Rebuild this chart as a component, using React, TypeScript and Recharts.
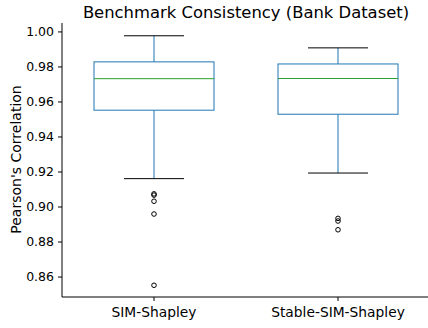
// @ts-nocheck
import { ComposedChart, Bar, Scatter, XAxis, YAxis } from "recharts";

const categories = ["SIM-Shapley", "Stable-SIM-Shapley"];
const whiskerLow = [0.9162, 0.9194];
const q1 = [0.9553, 0.953];
const median = [0.9733, 0.9734];
const q3 = [0.9829, 0.9817];
const whiskerHigh = [0.9978, 0.9909];
const outliers = [
  [0.9075, 0.9068, 0.9033, 0.896, 0.8553],
  [0.8935, 0.892, 0.887],
];
const yTicks = [0.86, 0.88, 0.9, 0.92, 0.94, 0.96, 0.98, 1.0];

const data = categories.map((name, i) => ({
  name,
  range: [whiskerLow[i], whiskerHigh[i]],
  lo: whiskerLow[i],
  q1: q1[i],
  med: median[i],
  q3: q3[i],
  hi: whiskerHigh[i],
}));

const outlierData = categories.flatMap((name, i) =>
  outliers[i].map((v) => ({ name, value: v }))
);

const BLUE = "#1f77b4";
const GREEN = "#2ca02c";

function BoxShape(props) {
  const { x, y, width, height, payload } = props;
  const top = Math.min(y, y + height);
  const h = Math.abs(height);
  const { lo, hi } = payload;
  const py = (v) => top + ((hi - v) / (hi - lo)) * h;
  const cx = x + width / 2;
  const capHalf = width / 4;
  return (
    <g>
      <line x1={cx} x2={cx} y1={py(hi)} y2={py(payload.q3)} stroke={BLUE} strokeWidth={1} />
      <line x1={cx} x2={cx} y1={py(payload.q1)} y2={py(lo)} stroke={BLUE} strokeWidth={1} />
      <line x1={cx - capHalf} x2={cx + capHalf} y1={py(hi)} y2={py(hi)} stroke="#000" strokeWidth={1} />
      <line x1={cx - capHalf} x2={cx + capHalf} y1={py(lo)} y2={py(lo)} stroke="#000" strokeWidth={1} />
      <rect
        x={x}
        y={py(payload.q3)}
        width={width}
        height={py(payload.q1) - py(payload.q3)}
        fill="none"
        stroke={BLUE}
        strokeWidth={1}
      />
      <line x1={x} x2={x + width} y1={py(payload.med)} y2={py(payload.med)} stroke={GREEN} strokeWidth={1} />
    </g>
  );
}

function Flier(props) {
  const { cx, cy } = props;
  return <circle cx={cx} cy={cy} r={2.3} fill="none" stroke="#000" strokeWidth={1} />;
}

export default function App() {
  return (
    <div
      style={{
        position: "fixed",
        left: 0,
        top: 0,
        width: 428,
        height: 328,
        overflow: "hidden",
        background: "#fff",
        fontFamily: "DejaVu Sans",
      }}
    >
      <ComposedChart
        width={432}
        height={328}
        data={data}
        margin={{ top: 23, right: 2, bottom: 0, left: 0 }}
      >
        <XAxis
          dataKey="name"
          type="category"
          allowDuplicatedCategory={false}
          padding={{ left: 0, right: 0 }}
          tickLine={{ stroke: "#000" }}
          axisLine={{ stroke: "#000" }}
          tickSize={4}
          tickMargin={6}
          tick={{ fill: "#000", fontSize: 13.8 }}
          interval={0}
          height={31}
        />
        <XAxis
          xAxisId="top"
          dataKey="name"
          orientation="top"
          allowDuplicatedCategory={false}
          tick={false}
          tickLine={false}
          axisLine={{ stroke: "#000" }}
          height={0}
        />
        <YAxis
          type="number"
          domain={[0.8486, 1.0051]}
          ticks={yTicks}
          allowDataOverflow
          tickFormatter={(v) => v.toFixed(2)}
          tickLine={{ stroke: "#000" }}
          axisLine={{ stroke: "#000" }}
          tickSize={4}
          tickMargin={4}
          tick={{ fill: "#000", fontSize: 12.5 }}
          width={62}
        />
        <Bar dataKey="range" barSize={120} shape={BoxShape} isAnimationActive={false} />
        <Scatter data={outlierData} dataKey="value" shape={Flier} isAnimationActive={false} />
      </ComposedChart>
      <svg
        width={428}
        height={328}
        style={{ position: "absolute", left: 0, top: 0, pointerEvents: "none" }}
      >
        <text x={246} y={18} textAnchor="middle" fontSize={16.4} fill="#000" fontFamily="DejaVu Sans">
          Benchmark Consistency (Bank Dataset)
        </text>
        <text
          transform="translate(21,159.5) rotate(-90)"
          textAnchor="middle"
          fontSize={14}
          fill="#000"
          fontFamily="DejaVu Sans"
        >
          Pearson's Correlation
        </text>
      </svg>
    </div>
  );
}
